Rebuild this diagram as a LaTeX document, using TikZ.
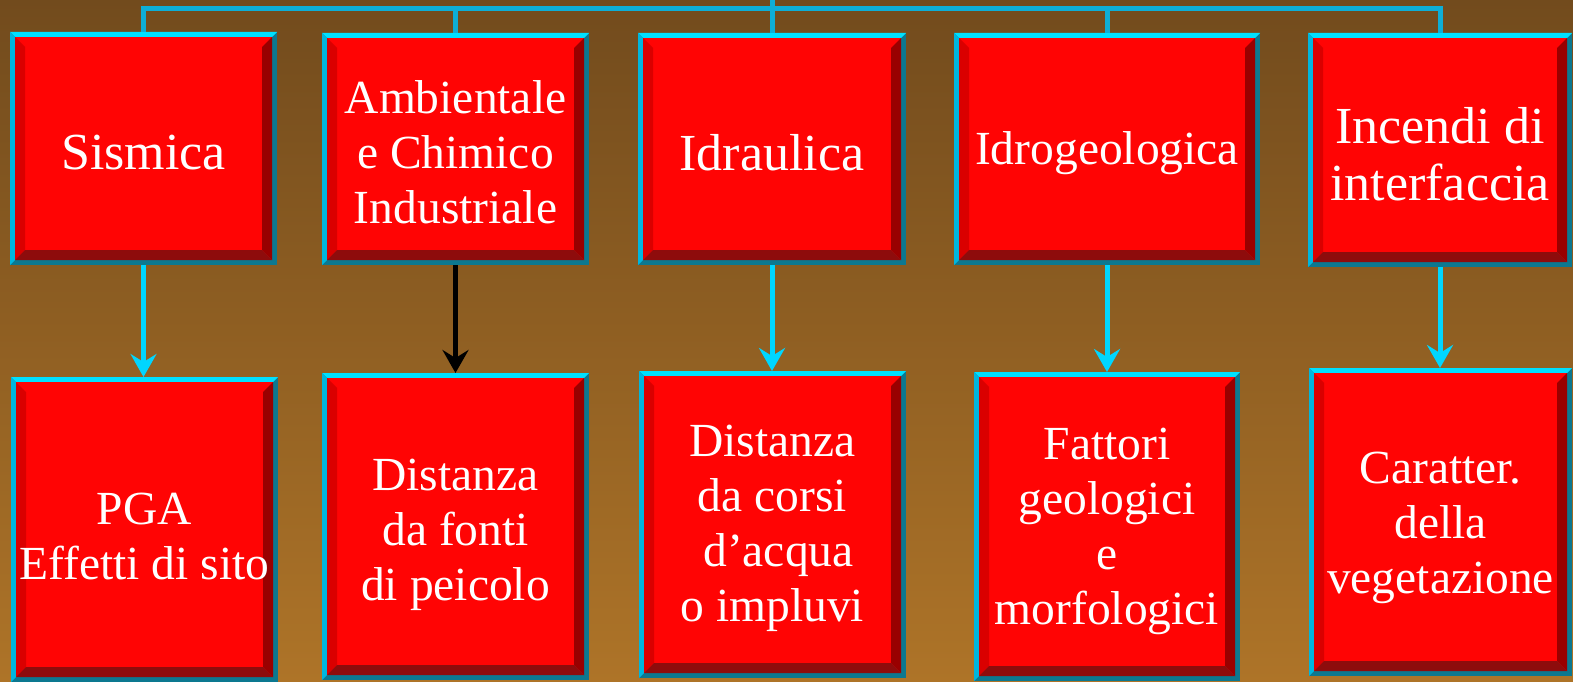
\documentclass[tikz,border=0pt]{standalone}
\usepackage{fontspec}
\setmainfont{Liberation Serif}
\usetikzlibrary{arrows.meta}
\definecolor{bgtop}{RGB}{114,75,29}
\definecolor{bgbot}{RGB}{174,116,40}
\definecolor{frametop}{RGB}{0,224,255}
\definecolor{frameleft}{RGB}{0,182,222}
\definecolor{framedark}{RGB}{12,120,144}
\definecolor{facered}{RGB}{255,4,4}
\definecolor{bevleft}{RGB}{218,0,0}
\definecolor{bevright}{RGB}{153,0,0}
\definecolor{bevbot}{RGB}{142,12,12}
\definecolor{busline}{RGB}{14,174,214}
\definecolor{arrowcyan}{RGB}{0,214,255}
\tikzset{
  boxnode/.style={inner sep=0pt, outer sep=0pt},
  textnode/.style={inner sep=0pt, outer sep=0pt, text=white, align=center},
  bigtext/.style={font=\fontsize{52}{57}\selectfont},
  smalltext/.style={font=\fontsize{47.5}{55}\selectfont},
  busstyle/.style={draw=busline, line width=5pt, line join=miter},
  downarrow/.style={draw=arrowcyan, line width=5pt, -{Stealth[length=23pt,width=26pt,inset=8pt]}},
  blackarrow/.style={draw=black, line width=5pt, -{Stealth[length=23pt,width=26pt,inset=8pt]}}
}
% #1 name, #2 x1, #3 y1, #4 x2, #5 y2, #6 text style, #7 text, #8 text shift down
\newcommand\bevbox[8]{%
  \fill[framedark] (#2,#3) rectangle (#4,#5);
  \fill[frametop] (#2,#3) -- (#4,#3) -- ({#4-5},{#3+5}) -- ({#2+5},{#3+5}) -- cycle;
  \fill[frameleft] (#2,#3) -- ({#2+5},{#3+5}) -- ({#2+5},{#5-5}) -- (#2,#5) -- cycle;
  \fill[facered] ({#2+5},{#3+5}) rectangle ({#4-5},{#5-5});
  \fill[bevleft] ({#2+5},{#3+5}) -- ({#2+15},{#3+15}) -- ({#2+15},{#5-15}) -- ({#2+5},{#5-5}) -- cycle;
  \fill[bevright] ({#4-5},{#3+5}) -- ({#4-15},{#3+15}) -- ({#4-15},{#5-15}) -- ({#4-5},{#5-5}) -- cycle;
  \fill[bevbot] ({#2+5},{#5-5}) -- ({#2+15},{#5-15}) -- ({#4-15},{#5-15}) -- ({#4-5},{#5-5}) -- cycle;
  \node[boxnode, minimum width={#4-#2}, minimum height={#5-#3}] (#1) at ({(#2+#4)/2},{(#3+#5)/2}) {};
  \node[textnode, #6] (#1-text) at ([yshift=-#8pt]#1.center) {#7};
}
\begin{document}
\begin{tikzpicture}[x=1pt, y=-1pt]
\useasboundingbox (0,0) rectangle (1573,682);
\shade[top color=bgtop, bottom color=bgbot] (0,0) rectangle (1573,682);

\bevbox{T1}{10}{32}{277}{265}{bigtext}{Sismica}{4}
\bevbox{T2}{322}{33}{589}{265}{smalltext}{Ambientale\\e Chimico\\Industriale}{3}
\bevbox{T3}{638}{33}{906}{265}{bigtext}{Idraulica}{4}
\bevbox{T4}{954}{33}{1260}{265}{smalltext}{Idrogeologica}{4}
\bevbox{T5}{1308}{33}{1572}{267}{bigtext}{Incendi di\\interfaccia}{4}

\bevbox{B1}{11}{377}{278}{682}{smalltext}{PGA\\Effetti di sito}{7}
\bevbox{B2}{322}{373}{589}{680}{smalltext}{Distanza\\da fonti\\di peicolo}{8}
\bevbox{B3}{639}{371}{906}{678}{smalltext}{Distanza\\da corsi\\\ d’acqua\\o impluvi}{4}
\bevbox{B4}{974}{372}{1240}{681}{smalltext}{Fattori\\geologici\\e\\morfologici}{5}
\bevbox{B5}{1309}{368}{1572}{676}{smalltext}{Caratter.\\della\\vegetazione}{6}

\coordinate (stemtop) at (772,0);
\coordinate (bus) at (772,9);
\draw[busstyle] (T1.north) |- (bus);
\draw[busstyle] (T5.north) |- (bus);
\draw[busstyle] (T2.north) -- (T2.north |- bus);
\draw[busstyle] (T4.north) -- (T4.north |- bus);
\draw[busstyle] (stemtop) -- (T3.north);

\draw[downarrow] (T1.south) -- (T1.south |- B1.north);
\draw[blackarrow] (T2.south) -- (T2.south |- B2.north);
\draw[downarrow] (T3.south) -- (T3.south |- B3.north);
\draw[downarrow] (T4.south) -- (T4.south |- B4.north);
\draw[downarrow] (T5.south) -- (T5.south |- B5.north);
\end{tikzpicture}
\end{document}
